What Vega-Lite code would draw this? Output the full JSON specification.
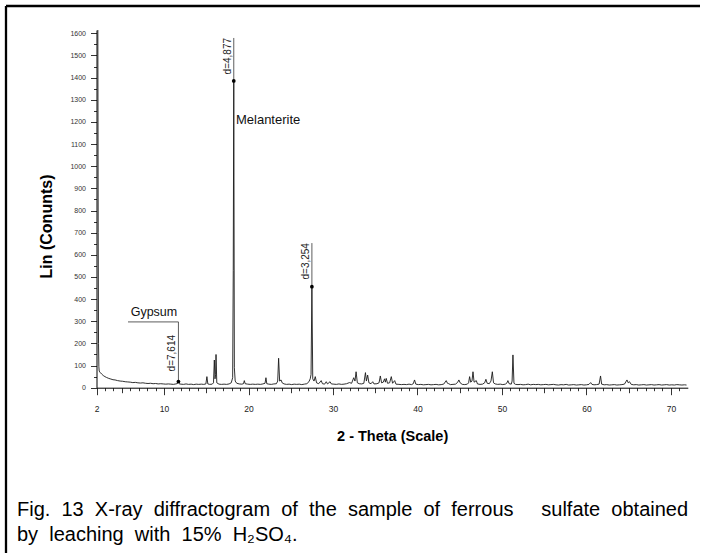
{
  "$schema": "https://vega.github.io/schema/vega-lite/v6.json",
  "width": 694,
  "height": 547,
  "autosize": "none",
  "padding": {"left": 6, "top": 6, "right": 9, "bottom": 0},
  "background": "white",
  "config": {
    "font": "Liberation Sans",
    "view": {"stroke": "#000", "strokeWidth": 2.3, "strokeDash": [694, 1241, 547, 0]}
  },
  "title": {
    "text": ["Fig. \u00a013 \u00a0X-ray \u00a0diffractogram \u00a0of \u00a0the \u00a0sample \u00a0of \u00a0ferrous \u00a0\u00a0\u00a0 sulfate \u00a0obtained", "by \u00a0leaching \u00a0with \u00a015% \u00a0H₂SO₄."],
    "orient": "bottom",
    "anchor": "start",
    "frame": "group",
    "offset": -53,
    "dx": 11,
    "font": "Liberation Sans",
    "fontSize": 20,
    "fontWeight": "normal",
    "color": "#000",
    "lineHeight": 24.5,
    "baseline": "top"
  },
  "datasets": {
    "xrd": [
      {"theta": 2.16, "counts": 1615}, {"theta": 2.2, "counts": 700}, {"theta": 2.24, "counts": 200}, {"theta": 2.28, "counts": 95},
      {"theta": 2.32, "counts": 75}, {"theta": 2.45, "counts": 68}, {"theta": 2.6, "counts": 62}, {"theta": 2.8, "counts": 55},
      {"theta": 3.0, "counts": 50}, {"theta": 3.2, "counts": 46}, {"theta": 3.45, "counts": 42}, {"theta": 3.7, "counts": 39},
      {"theta": 3.95, "counts": 36}, {"theta": 4.2, "counts": 35}, {"theta": 4.5, "counts": 32}, {"theta": 4.8, "counts": 30},
      {"theta": 5.1, "counts": 29}, {"theta": 5.4, "counts": 27}, {"theta": 5.7, "counts": 26}, {"theta": 6.0, "counts": 25},
      {"theta": 6.3, "counts": 23}, {"theta": 6.6, "counts": 24}, {"theta": 6.9, "counts": 22}, {"theta": 7.2, "counts": 21},
      {"theta": 7.5, "counts": 22}, {"theta": 7.8, "counts": 20}, {"theta": 8.1, "counts": 19}, {"theta": 8.4, "counts": 20},
      {"theta": 8.7, "counts": 18}, {"theta": 9.0, "counts": 19}, {"theta": 9.3, "counts": 17}, {"theta": 9.6, "counts": 18},
      {"theta": 9.9, "counts": 17}, {"theta": 10.2, "counts": 16}, {"theta": 10.5, "counts": 17}, {"theta": 10.8, "counts": 16},
      {"theta": 11.1, "counts": 15}, {"theta": 11.4, "counts": 17}, {"theta": 11.6, "counts": 19}, {"theta": 11.7, "counts": 28},
      {"theta": 11.8, "counts": 17}, {"theta": 12.0, "counts": 16}, {"theta": 12.3, "counts": 15}, {"theta": 12.6, "counts": 17},
      {"theta": 12.9, "counts": 15}, {"theta": 13.2, "counts": 16}, {"theta": 13.5, "counts": 14}, {"theta": 13.8, "counts": 16},
      {"theta": 14.1, "counts": 15}, {"theta": 14.4, "counts": 16}, {"theta": 14.7, "counts": 15}, {"theta": 14.95, "counts": 17},
      {"theta": 15.07, "counts": 50}, {"theta": 15.18, "counts": 17}, {"theta": 15.4, "counts": 15}, {"theta": 15.7, "counts": 16},
      {"theta": 15.85, "counts": 22}, {"theta": 15.95, "counts": 125}, {"theta": 16.03, "counts": 40}, {"theta": 16.1, "counts": 60},
      {"theta": 16.15, "counts": 150}, {"theta": 16.24, "counts": 22}, {"theta": 16.5, "counts": 16}, {"theta": 16.8, "counts": 15},
      {"theta": 17.1, "counts": 16}, {"theta": 17.4, "counts": 15}, {"theta": 17.7, "counts": 17}, {"theta": 17.95, "counts": 22},
      {"theta": 18.12, "counts": 45}, {"theta": 18.19, "counts": 530}, {"theta": 18.25, "counts": 1385}, {"theta": 18.32, "counts": 90},
      {"theta": 18.42, "counts": 30}, {"theta": 18.6, "counts": 20}, {"theta": 18.9, "counts": 17}, {"theta": 19.2, "counts": 16},
      {"theta": 19.4, "counts": 18}, {"theta": 19.5, "counts": 32}, {"theta": 19.6, "counts": 18}, {"theta": 19.9, "counts": 16},
      {"theta": 20.2, "counts": 15}, {"theta": 20.5, "counts": 16}, {"theta": 20.8, "counts": 15}, {"theta": 21.1, "counts": 16},
      {"theta": 21.4, "counts": 15}, {"theta": 21.7, "counts": 17}, {"theta": 21.95, "counts": 20}, {"theta": 22.06, "counts": 45},
      {"theta": 22.16, "counts": 18}, {"theta": 22.4, "counts": 16}, {"theta": 22.7, "counts": 15}, {"theta": 23.0, "counts": 17},
      {"theta": 23.3, "counts": 18}, {"theta": 23.45, "counts": 30}, {"theta": 23.56, "counts": 133}, {"theta": 23.68, "counts": 30},
      {"theta": 23.85, "counts": 35}, {"theta": 23.98, "counts": 22}, {"theta": 24.2, "counts": 17}, {"theta": 24.5, "counts": 15},
      {"theta": 24.8, "counts": 16}, {"theta": 25.1, "counts": 14}, {"theta": 25.4, "counts": 16}, {"theta": 25.7, "counts": 15},
      {"theta": 26.0, "counts": 16}, {"theta": 26.3, "counts": 14}, {"theta": 26.6, "counts": 16}, {"theta": 26.9, "counts": 18},
      {"theta": 27.15, "counts": 27}, {"theta": 27.3, "counts": 40}, {"theta": 27.4, "counts": 60}, {"theta": 27.5, "counts": 456},
      {"theta": 27.6, "counts": 40}, {"theta": 27.75, "counts": 30}, {"theta": 27.9, "counts": 50}, {"theta": 28.05, "counts": 22},
      {"theta": 28.3, "counts": 18}, {"theta": 28.6, "counts": 32}, {"theta": 28.75, "counts": 18}, {"theta": 29.0, "counts": 16},
      {"theta": 29.2, "counts": 27}, {"theta": 29.35, "counts": 17}, {"theta": 29.65, "counts": 27}, {"theta": 29.8, "counts": 17},
      {"theta": 30.1, "counts": 16}, {"theta": 30.4, "counts": 15}, {"theta": 30.7, "counts": 17}, {"theta": 31.0, "counts": 15},
      {"theta": 31.3, "counts": 16}, {"theta": 31.6, "counts": 18}, {"theta": 31.94, "counts": 23}, {"theta": 32.2, "counts": 20},
      {"theta": 32.45, "counts": 45}, {"theta": 32.6, "counts": 30}, {"theta": 32.73, "counts": 72}, {"theta": 32.88, "counts": 22},
      {"theta": 33.1, "counts": 18}, {"theta": 33.4, "counts": 17}, {"theta": 33.65, "counts": 20}, {"theta": 33.84, "counts": 68},
      {"theta": 33.95, "counts": 30}, {"theta": 34.1, "counts": 57}, {"theta": 34.25, "counts": 22}, {"theta": 34.5, "counts": 18},
      {"theta": 34.7, "counts": 27}, {"theta": 34.85, "counts": 17}, {"theta": 35.2, "counts": 18}, {"theta": 35.45, "counts": 22},
      {"theta": 35.6, "counts": 53}, {"theta": 35.75, "counts": 22}, {"theta": 35.95, "counts": 25}, {"theta": 36.1, "counts": 40},
      {"theta": 36.2, "counts": 25}, {"theta": 36.3, "counts": 42}, {"theta": 36.45, "counts": 20}, {"theta": 36.7, "counts": 22},
      {"theta": 36.9, "counts": 50}, {"theta": 37.05, "counts": 20}, {"theta": 37.3, "counts": 32}, {"theta": 37.45, "counts": 16},
      {"theta": 37.8, "counts": 15}, {"theta": 38.1, "counts": 14}, {"theta": 38.4, "counts": 15}, {"theta": 38.7, "counts": 14},
      {"theta": 39.0, "counts": 16}, {"theta": 39.3, "counts": 14}, {"theta": 39.5, "counts": 18}, {"theta": 39.65, "counts": 35},
      {"theta": 39.8, "counts": 16}, {"theta": 40.1, "counts": 14}, {"theta": 40.4, "counts": 15}, {"theta": 40.7, "counts": 13},
      {"theta": 41.0, "counts": 14}, {"theta": 41.3, "counts": 15}, {"theta": 41.6, "counts": 13}, {"theta": 41.9, "counts": 14},
      {"theta": 42.2, "counts": 15}, {"theta": 42.5, "counts": 13}, {"theta": 42.8, "counts": 14}, {"theta": 43.1, "counts": 16},
      {"theta": 43.4, "counts": 32}, {"theta": 43.55, "counts": 20}, {"theta": 43.7, "counts": 18}, {"theta": 43.9, "counts": 14},
      {"theta": 44.2, "counts": 15}, {"theta": 44.5, "counts": 16}, {"theta": 44.75, "counts": 24}, {"theta": 44.9, "counts": 35},
      {"theta": 45.05, "counts": 22}, {"theta": 45.3, "counts": 15}, {"theta": 45.6, "counts": 14}, {"theta": 45.9, "counts": 16},
      {"theta": 46.05, "counts": 22}, {"theta": 46.17, "counts": 50}, {"theta": 46.3, "counts": 25}, {"theta": 46.45, "counts": 30},
      {"theta": 46.57, "counts": 72}, {"theta": 46.7, "counts": 25}, {"theta": 46.96, "counts": 32}, {"theta": 47.1, "counts": 17},
      {"theta": 47.4, "counts": 15}, {"theta": 47.7, "counts": 16}, {"theta": 47.95, "counts": 22}, {"theta": 48.1, "counts": 38},
      {"theta": 48.25, "counts": 20}, {"theta": 48.5, "counts": 18}, {"theta": 48.7, "counts": 30}, {"theta": 48.86, "counts": 72},
      {"theta": 49.0, "counts": 22}, {"theta": 49.2, "counts": 17}, {"theta": 49.5, "counts": 15}, {"theta": 49.8, "counts": 16},
      {"theta": 50.1, "counts": 14}, {"theta": 50.4, "counts": 16}, {"theta": 50.6, "counts": 22}, {"theta": 50.7, "counts": 32},
      {"theta": 50.85, "counts": 18}, {"theta": 51.1, "counts": 16}, {"theta": 51.2, "counts": 30}, {"theta": 51.3, "counts": 148},
      {"theta": 51.42, "counts": 20}, {"theta": 51.6, "counts": 15}, {"theta": 51.9, "counts": 14}, {"theta": 52.2, "counts": 15},
      {"theta": 52.5, "counts": 13}, {"theta": 52.8, "counts": 14}, {"theta": 53.1, "counts": 16}, {"theta": 53.4, "counts": 13},
      {"theta": 53.7, "counts": 15}, {"theta": 54.0, "counts": 14}, {"theta": 54.3, "counts": 15}, {"theta": 54.6, "counts": 13},
      {"theta": 54.9, "counts": 14}, {"theta": 55.2, "counts": 15}, {"theta": 55.5, "counts": 13}, {"theta": 55.8, "counts": 14},
      {"theta": 56.1, "counts": 15}, {"theta": 56.4, "counts": 13}, {"theta": 56.7, "counts": 12}, {"theta": 57.0, "counts": 14},
      {"theta": 57.3, "counts": 13}, {"theta": 57.6, "counts": 15}, {"theta": 57.9, "counts": 12}, {"theta": 58.2, "counts": 13},
      {"theta": 58.5, "counts": 14}, {"theta": 58.8, "counts": 12}, {"theta": 59.1, "counts": 13}, {"theta": 59.4, "counts": 14},
      {"theta": 59.7, "counts": 12}, {"theta": 60.0, "counts": 13}, {"theta": 60.3, "counts": 15}, {"theta": 60.5, "counts": 23},
      {"theta": 60.65, "counts": 15}, {"theta": 60.9, "counts": 13}, {"theta": 61.2, "counts": 14}, {"theta": 61.5, "counts": 16},
      {"theta": 61.67, "counts": 53}, {"theta": 61.8, "counts": 16}, {"theta": 62.1, "counts": 13}, {"theta": 62.4, "counts": 14},
      {"theta": 62.7, "counts": 12}, {"theta": 63.0, "counts": 13}, {"theta": 63.3, "counts": 14}, {"theta": 63.6, "counts": 12},
      {"theta": 63.9, "counts": 13}, {"theta": 64.2, "counts": 14}, {"theta": 64.5, "counts": 16}, {"theta": 64.8, "counts": 35},
      {"theta": 64.95, "counts": 22}, {"theta": 65.1, "counts": 27}, {"theta": 65.3, "counts": 15}, {"theta": 65.6, "counts": 13},
      {"theta": 65.9, "counts": 14}, {"theta": 66.2, "counts": 12}, {"theta": 66.5, "counts": 13}, {"theta": 66.8, "counts": 14},
      {"theta": 67.1, "counts": 12}, {"theta": 67.4, "counts": 13}, {"theta": 67.7, "counts": 14}, {"theta": 68.0, "counts": 12},
      {"theta": 68.3, "counts": 13}, {"theta": 68.6, "counts": 14}, {"theta": 68.9, "counts": 12}, {"theta": 69.2, "counts": 13},
      {"theta": 69.5, "counts": 14}, {"theta": 69.8, "counts": 12}, {"theta": 70.1, "counts": 13}, {"theta": 70.4, "counts": 12},
      {"theta": 70.7, "counts": 14}, {"theta": 71.0, "counts": 13}, {"theta": 71.3, "counts": 12}, {"theta": 71.6, "counts": 13},
      {"theta": 71.85, "counts": 12}
    ],
    "peaks": [
      {"theta": 18.25, "counts": 1385, "top": 1579, "labelTop": 1579, "label": "d=4,877"},
      {"theta": 27.5, "counts": 456, "top": 653, "labelTop": 653, "label": "d=3,254"},
      {"theta": 11.7, "counts": 28, "top": 297, "labelTop": 238, "label": "d=7,614"}
    ],
    "bracket": [
      {"theta": 5.73, "theta2": 11.7, "counts": 297}
    ],
    "notes": [
      {"theta": 18.51, "counts": 1190, "note": "Melanterite", "align": "left"},
      {"theta": 8.8, "counts": 322, "note": "Gypsum", "align": "center"}
    ]
  },
  "layer": [
    {
      "data": {"name": "xrd"},
      "mark": {"type": "line", "color": "#1a1a1a", "strokeWidth": 0.9, "interpolate": "linear"},
      "encoding": {
        "x": {
          "field": "theta", "type": "quantitative",
          "scale": {"domain": [2, 72], "range": [90.5, 681.8], "nice": false, "zero": false},
          "axis": {
            "title": "2 - Theta (Scale)",
            "offset": -165.3,
            "values": [2,3,4,5,6,7,8,9,10,11,12,13,14,15,16,17,18,19,20,21,22,23,24,25,26,27,28,29,30,31,32,33,34,35,36,37,38,39,40,41,42,43,44,45,46,47,48,49,50,51,52,53,54,55,56,57,58,59,60,61,62,63,64,65,66,67,68,69,70,71],
            "tickCount": 500,
            "labelExpr": "datum.value === 2 || datum.value % 10 === 0 ? datum.label : ''",
            "format": "d",
            "grid": false,
            "labelFlush": false,
            "labelOverlap": false,
            "labelBound": false,
            "domainColor": "#000",
            "domainWidth": 1,
            "tickColor": "#000",
            "tickWidth": 0.8,
            "tickSize": {"condition": [{"test": "datum.value % 10 === 0 || datum.value === 2", "value": 7}, {"test": "datum.value % 5 === 0", "value": 5}], "value": 3},
            "labelPadding": 10,
            "labelFont": "Liberation Sans",
            "labelFontSize": 8.5,
            "labelColor": "#222",
            "titleFont": "Liberation Sans",
            "titleFontSize": 14.5,
            "titleFontWeight": "bold",
            "titleColor": "#000",
            "titleY": 49,
            "titleBaseline": "middle"
          }
        },
        "y": {
          "field": "counts", "type": "quantitative",
          "scale": {"domain": [0, 1615], "range": [381.7, 24], "nice": false, "zero": true},
          "axis": {
            "title": "Lin (Conunts)",
            "offset": -90.5,
            "values": [0,50,100,150,200,250,300,350,400,450,500,550,600,650,700,750,800,850,900,950,1000,1050,1100,1150,1200,1250,1300,1350,1400,1450,1500,1550,1600],
            "tickCount": 500,
            "labelExpr": "datum.value % 100 === 0 ? datum.label : ''",
            "format": "d",
            "grid": false,
            "labelOverlap": false,
            "labelBound": false,
            "domainColor": "#000",
            "domainWidth": 1,
            "tickColor": "#000",
            "tickWidth": 0.8,
            "tickSize": {"condition": {"test": "datum.value % 100 === 0", "value": 6}, "value": 3},
            "labelPadding": 5,
            "labelFont": "Liberation Sans",
            "labelFontSize": 7,
            "labelColor": "#333",
            "titleFont": "Liberation Sans",
            "titleFontSize": 16,
            "titleFontWeight": "bold",
            "titleColor": "#000",
            "titleAngle": 270,
            "titleX": -50,
            "titleY": 220,
            "titleAlign": "center",
            "titleBaseline": "middle"
          }
        }
      }
    },
    {
      "data": {"name": "peaks"},
      "mark": {"type": "rule", "color": "#333", "strokeWidth": 0.8},
      "encoding": {
        "x": {"field": "theta", "type": "quantitative"},
        "y": {"field": "counts", "type": "quantitative"},
        "y2": {"field": "top"}
      }
    },
    {
      "data": {"name": "peaks"},
      "mark": {"type": "point", "filled": true, "shape": "circle", "size": 14, "color": "#000", "opacity": 1},
      "encoding": {
        "x": {"field": "theta", "type": "quantitative"},
        "y": {"field": "counts", "type": "quantitative"}
      }
    },
    {
      "data": {"name": "peaks"},
      "mark": {"type": "text", "angle": 270, "align": "right", "baseline": "bottom", "dy": -1, "fontSize": 10, "font": "Liberation Sans", "color": "#222"},
      "encoding": {
        "x": {"field": "theta", "type": "quantitative"},
        "y": {"field": "labelTop", "type": "quantitative"},
        "text": {"field": "label"}
      }
    },
    {
      "data": {"name": "bracket"},
      "mark": {"type": "rule", "color": "#333", "strokeWidth": 0.8},
      "encoding": {
        "x": {"field": "theta", "type": "quantitative"},
        "x2": {"field": "theta2"},
        "y": {"field": "counts", "type": "quantitative"}
      }
    },
    {
      "data": {"name": "notes"},
      "transform": [{"filter": "datum.align === 'left'"}],
      "mark": {"type": "text", "align": "left", "baseline": "alphabetic", "fontSize": 13, "font": "Liberation Sans", "color": "#111"},
      "encoding": {
        "x": {"field": "theta", "type": "quantitative"},
        "y": {"field": "counts", "type": "quantitative"},
        "text": {"field": "note"}
      }
    },
    {
      "data": {"name": "notes"},
      "transform": [{"filter": "datum.align === 'center'"}],
      "mark": {"type": "text", "align": "center", "baseline": "alphabetic", "fontSize": 12.5, "font": "Liberation Sans", "color": "#111"},
      "encoding": {
        "x": {"field": "theta", "type": "quantitative"},
        "y": {"field": "counts", "type": "quantitative"},
        "text": {"field": "note"}
      }
    }
  ]
}
